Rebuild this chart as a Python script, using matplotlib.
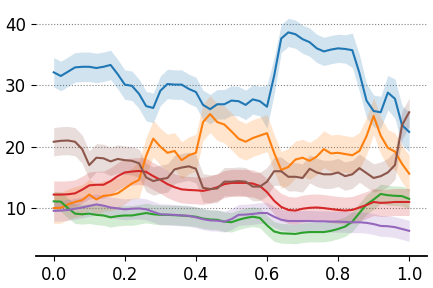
import numpy as np
import matplotlib.pyplot as plt

# eixo x comum (passo 0.02)
x = np.linspace(0, 1, 51)

blue = [32.1, 31.5, 32.2, 32.9, 33.0, 33.0, 32.8, 33.0, 33.3, 31.8,
        30.1, 29.9, 28.6, 26.6, 26.3, 29.1, 30.2, 30.1, 30.1, 29.4,
        28.9, 26.8, 26.1, 26.9, 26.9, 27.5, 27.4, 26.8, 27.7, 27.4,
        26.5, 31.5, 37.6, 38.6, 38.3, 37.5, 37.0, 36.0, 35.5, 35.8,
        36.0, 35.9, 35.7, 32.0, 27.5, 25.8, 25.6, 28.8, 27.8, 23.5, 22.4]
orange = [10.0, 10.05, 10.6, 11.0, 11.3, 12.2, 11.4, 12.0, 12.1, 12.4,
          13.2, 14.0, 14.6, 18.5, 21.3, 20.0, 19.0, 19.3, 17.8, 18.6,
          19.0, 24.0, 25.3, 24.0, 23.6, 22.5, 21.3, 20.8, 21.4, 21.8,
          22.2, 19.0, 16.2, 16.7, 17.9, 18.2, 17.7, 18.4, 19.6, 18.9,
          19.0, 18.8, 18.6, 19.3, 21.7, 25.0, 21.8, 19.8, 19.2, 17.2, 15.6]
green = [11.1, 11.05, 10.0, 9.1, 9.0, 9.1, 8.9, 8.8, 8.5, 8.7,
         8.8, 8.8, 9.0, 9.2, 9.0, 8.9, 8.9, 8.85, 8.8, 8.7,
         8.6, 8.3, 8.15, 8.1, 7.8, 7.7, 8.1, 8.4, 8.6, 8.4,
         7.2, 6.2, 5.9, 5.85, 5.8, 6.0, 6.1, 6.1, 6.1, 6.3,
         6.6, 7.0, 7.8, 9.2, 10.6, 11.4, 12.3, 12.1, 12.0, 11.95, 11.5]
red = [12.2, 12.2, 12.25, 12.4, 13.0, 13.7, 13.8, 13.8, 14.4, 15.2,
       15.8, 15.95, 16.05, 15.9, 15.2, 14.6, 13.9, 13.4, 13.05, 12.95,
       12.9, 12.8, 13.05, 13.4, 13.9, 14.1, 14.1, 14.1, 14.0, 13.6,
       12.6, 11.2, 10.2, 9.7, 9.6, 9.9, 10.05, 10.1, 10.0, 9.85,
       9.7, 9.6, 9.7, 10.1, 10.5, 11.0, 10.85, 10.9, 11.0, 11.0, 11.0]
purple = [9.56, 9.6, 9.7, 9.9, 10.1, 10.35, 10.6, 10.4, 10.1, 9.95,
          9.8, 9.9, 9.95, 9.8, 9.4, 9.0, 8.95, 8.9, 8.8, 8.75,
          8.5, 8.2, 8.0, 7.95, 7.8, 8.2, 8.9, 8.95, 9.05, 9.2,
          9.2, 8.6, 8.1, 7.9, 7.9, 7.9, 7.9, 7.85, 7.85, 7.8,
          7.8, 7.75, 7.7, 7.7, 7.6, 7.4, 7.1, 7.05, 6.9, 6.6, 6.3]
brown = [20.8, 20.95, 21.0, 20.8, 19.6, 17.0, 18.2, 18.1, 17.6, 18.0,
         17.8, 17.7, 17.3, 15.0, 14.4, 14.7, 14.9, 16.3, 16.6, 16.8,
         16.4, 13.3, 13.1, 13.2, 14.3, 14.3, 14.4, 14.3, 13.5, 13.5,
         14.3, 16.0, 16.0, 15.1, 15.1, 14.9, 16.4, 15.8, 15.5, 15.5,
         15.8, 15.2, 15.5, 16.5, 15.7, 14.9, 15.2, 15.8, 17.0, 23.5, 25.6]

# meia largura das faixas
blue_err = [2.4] * 30 + [3.5, 3.0] + [2.3] * 10 + [2.8, 3.0, 2.8, 2.6, 2.6, 2.8, 3.2, 3.2, 3.2]
orange_err = [2.5] * 12 + [3.0] * 39
green_err = [1.6] * 51
red_err = [2.2] * 51
purple_err = [1.7] * 51
brown_err = [2.3] * 51

series = [
    (blue, blue_err, 'tab:blue'),
    (orange, orange_err, 'tab:orange'),
    (green, green_err, 'tab:green'),
    (red, red_err, 'tab:red'),
    (purple, purple_err, 'tab:purple'),
    (brown, brown_err, 'tab:brown'),
]

fig = plt.figure(figsize=(4.33, 2.88), dpi=100)
ax = fig.add_axes([0.083, 0.111, 0.903, 0.879])

for y, e, c in series:
    y = np.array(y)
    e = np.array(e)
    ax.fill_between(x, y - e, y + e, color=c, alpha=0.2, linewidth=0)
    ax.plot(x, y, color=c, linewidth=1.5)

ax.set_xlim(-0.05, 1.05)
ax.set_ylim(2.2, 43.4)
ax.set_yticks([10, 20, 30, 40])
ax.set_xticks([0.0, 0.2, 0.4, 0.6, 0.8, 1.0])
ax.yaxis.grid(True, linestyle=':', color='0.5', linewidth=0.8)
ax.set_axisbelow(True)
for s in ['top', 'right', 'left']:
    ax.spines[s].set_visible(False)
ax.spines['bottom'].set_linewidth(1.3)
ax.tick_params(labelsize=12)

fig.savefig('out.png', dpi=100)
